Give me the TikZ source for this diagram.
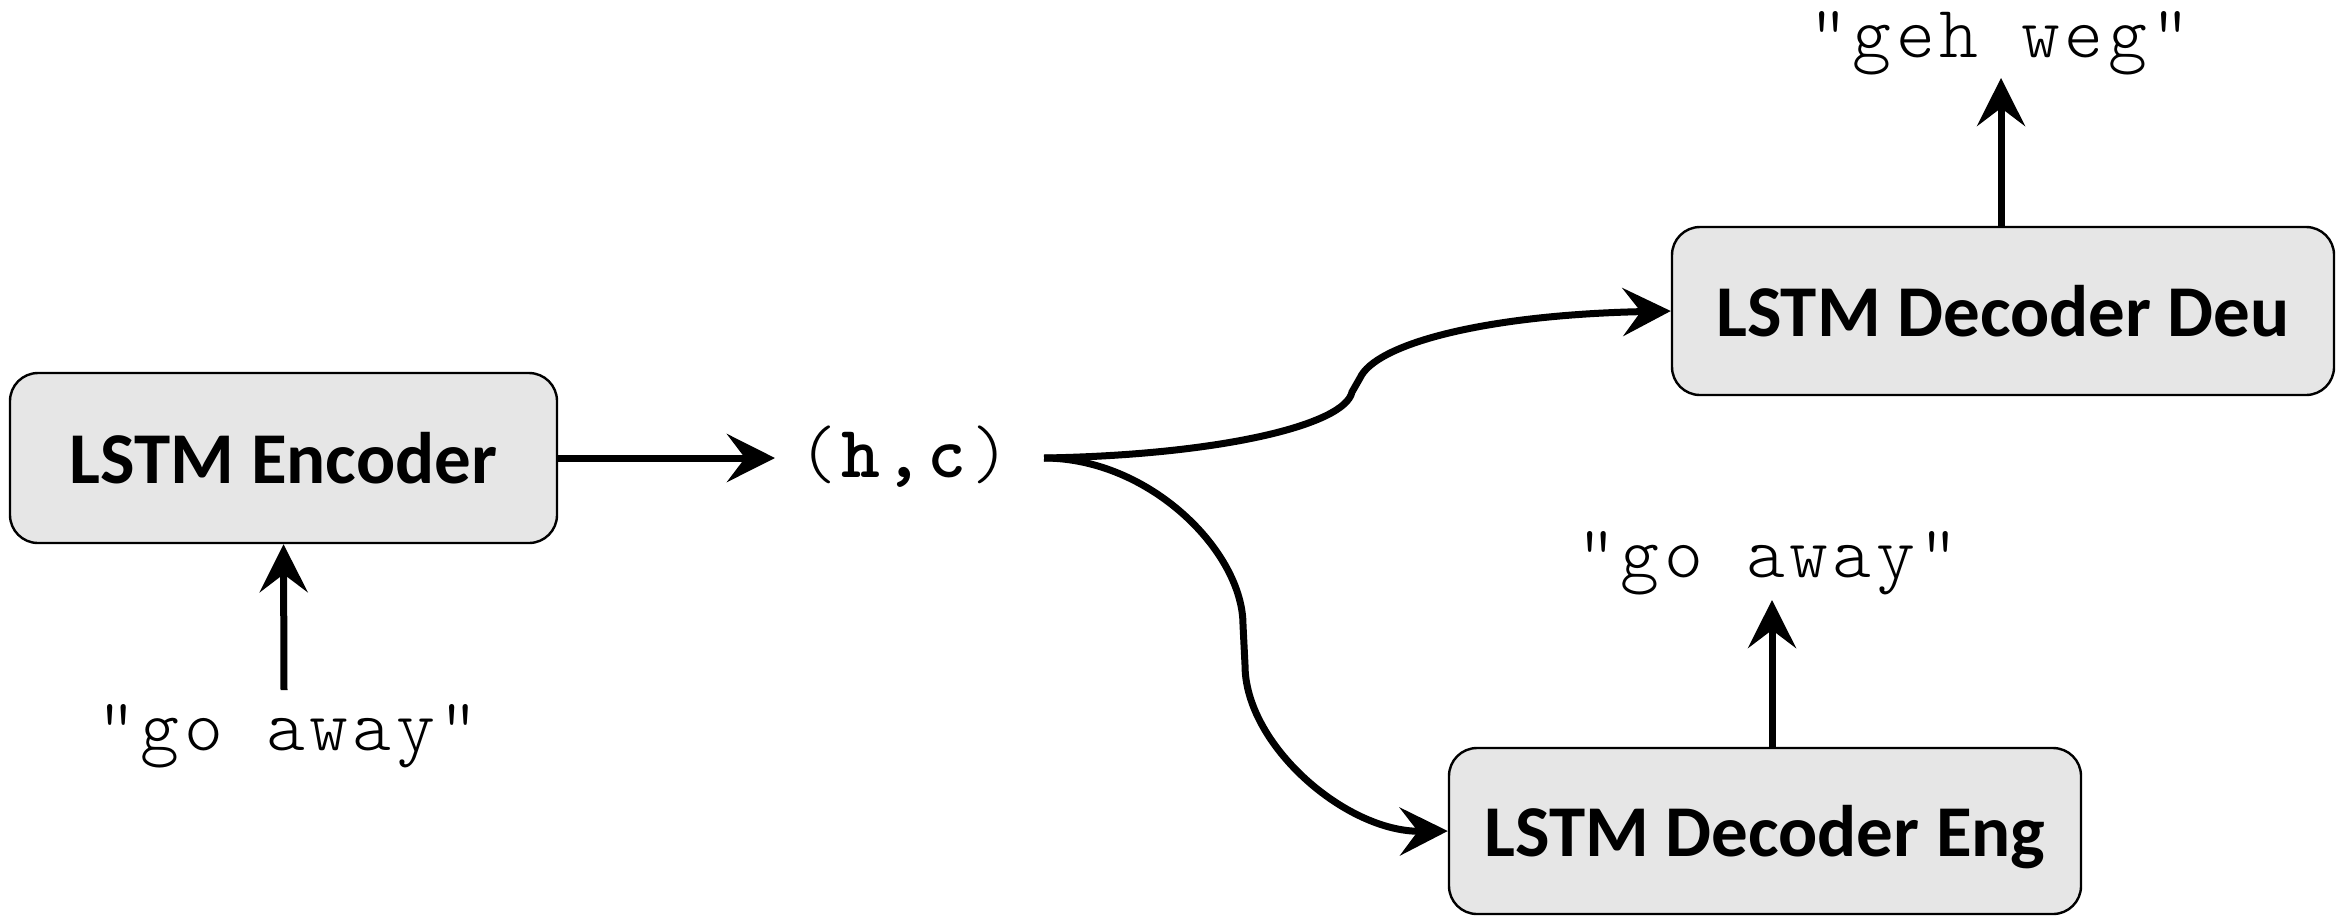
\documentclass[tikz,border=0pt]{standalone}
\usepackage{fontspec}
\setmainfont{Carlito}
\newfontfamily\cour{Latin Modern Mono Light}[LetterSpace=6]
\usetikzlibrary{arrows.meta,calc}
\definecolor{boxgray}{HTML}{E6E6E6}
\tikzset{
  lstm/.style={draw=black, line width=1.2pt, fill=boxgray, rounded corners=14pt,
    font=\fontsize{36.5}{40}\selectfont\bfseries, text depth=0pt, inner sep=0pt},
  courtxt/.style={font=\cour\fontsize{37}{40}\selectfont, inner sep=0pt, anchor=base},
  arr/.style={line width=3.5pt, -{Stealth[length=24pt,width=24pt,inset=9pt]}},
}
\begin{document}
\begin{tikzpicture}[x=0.5pt,y=-0.5pt]
\useasboundingbox (0,0) rectangle (2349,917);
% boxes
\node[lstm, minimum width=273.5pt, minimum height=85pt] (enc) at (283.5,458) {LSTM Encoder};
\node[lstm, minimum width=331pt, minimum height=84pt] (deu) at (2003,311) {LSTM Decoder Deu};
\node[lstm, minimum width=316pt, minimum height=83pt] (eng) at (1765,831) {LSTM Decoder Eng};
% texts
\node[courtxt] (in1) at (288,750) {"go away"};
\node[courtxt] (out1) at (2000,57) {"geh weg"};
\node[courtxt] (out2) at (1768,577) {"go away"};
\node[courtxt] (hc) at (904,477) {(\textbf{h,c})};
% free ends
\coordinate (hcin) at (775,458);
\coordinate (split) at (1044,458);
\coordinate (in1top) at (284,690);
\coordinate (out1bot) at (2001,78);
\coordinate (out2bot) at (1772,600);
\coordinate (engtop) at (1772,748);
\coordinate (deutop) at (2001,227);
% connectors
\draw[arr] (enc.east) -- (hcin);
\draw[arr] (in1top) -- (enc.south);
\draw[arr] (deutop) -- (out1bot);
\draw[arr] (engtop) -- (out2bot);
\draw[arr] (split) .. controls (1220,455) and (1345,425) .. (1352,392)
  -- (1360,378) .. controls (1375,345) and (1480,315) .. (deu.west);
\draw[arr] (split) .. controls (1150,458) and (1243,552) .. (1243,625)
  -- (1245,665) .. controls (1245,745) and (1346,832) .. (eng.west);
\end{tikzpicture}
\end{document}
